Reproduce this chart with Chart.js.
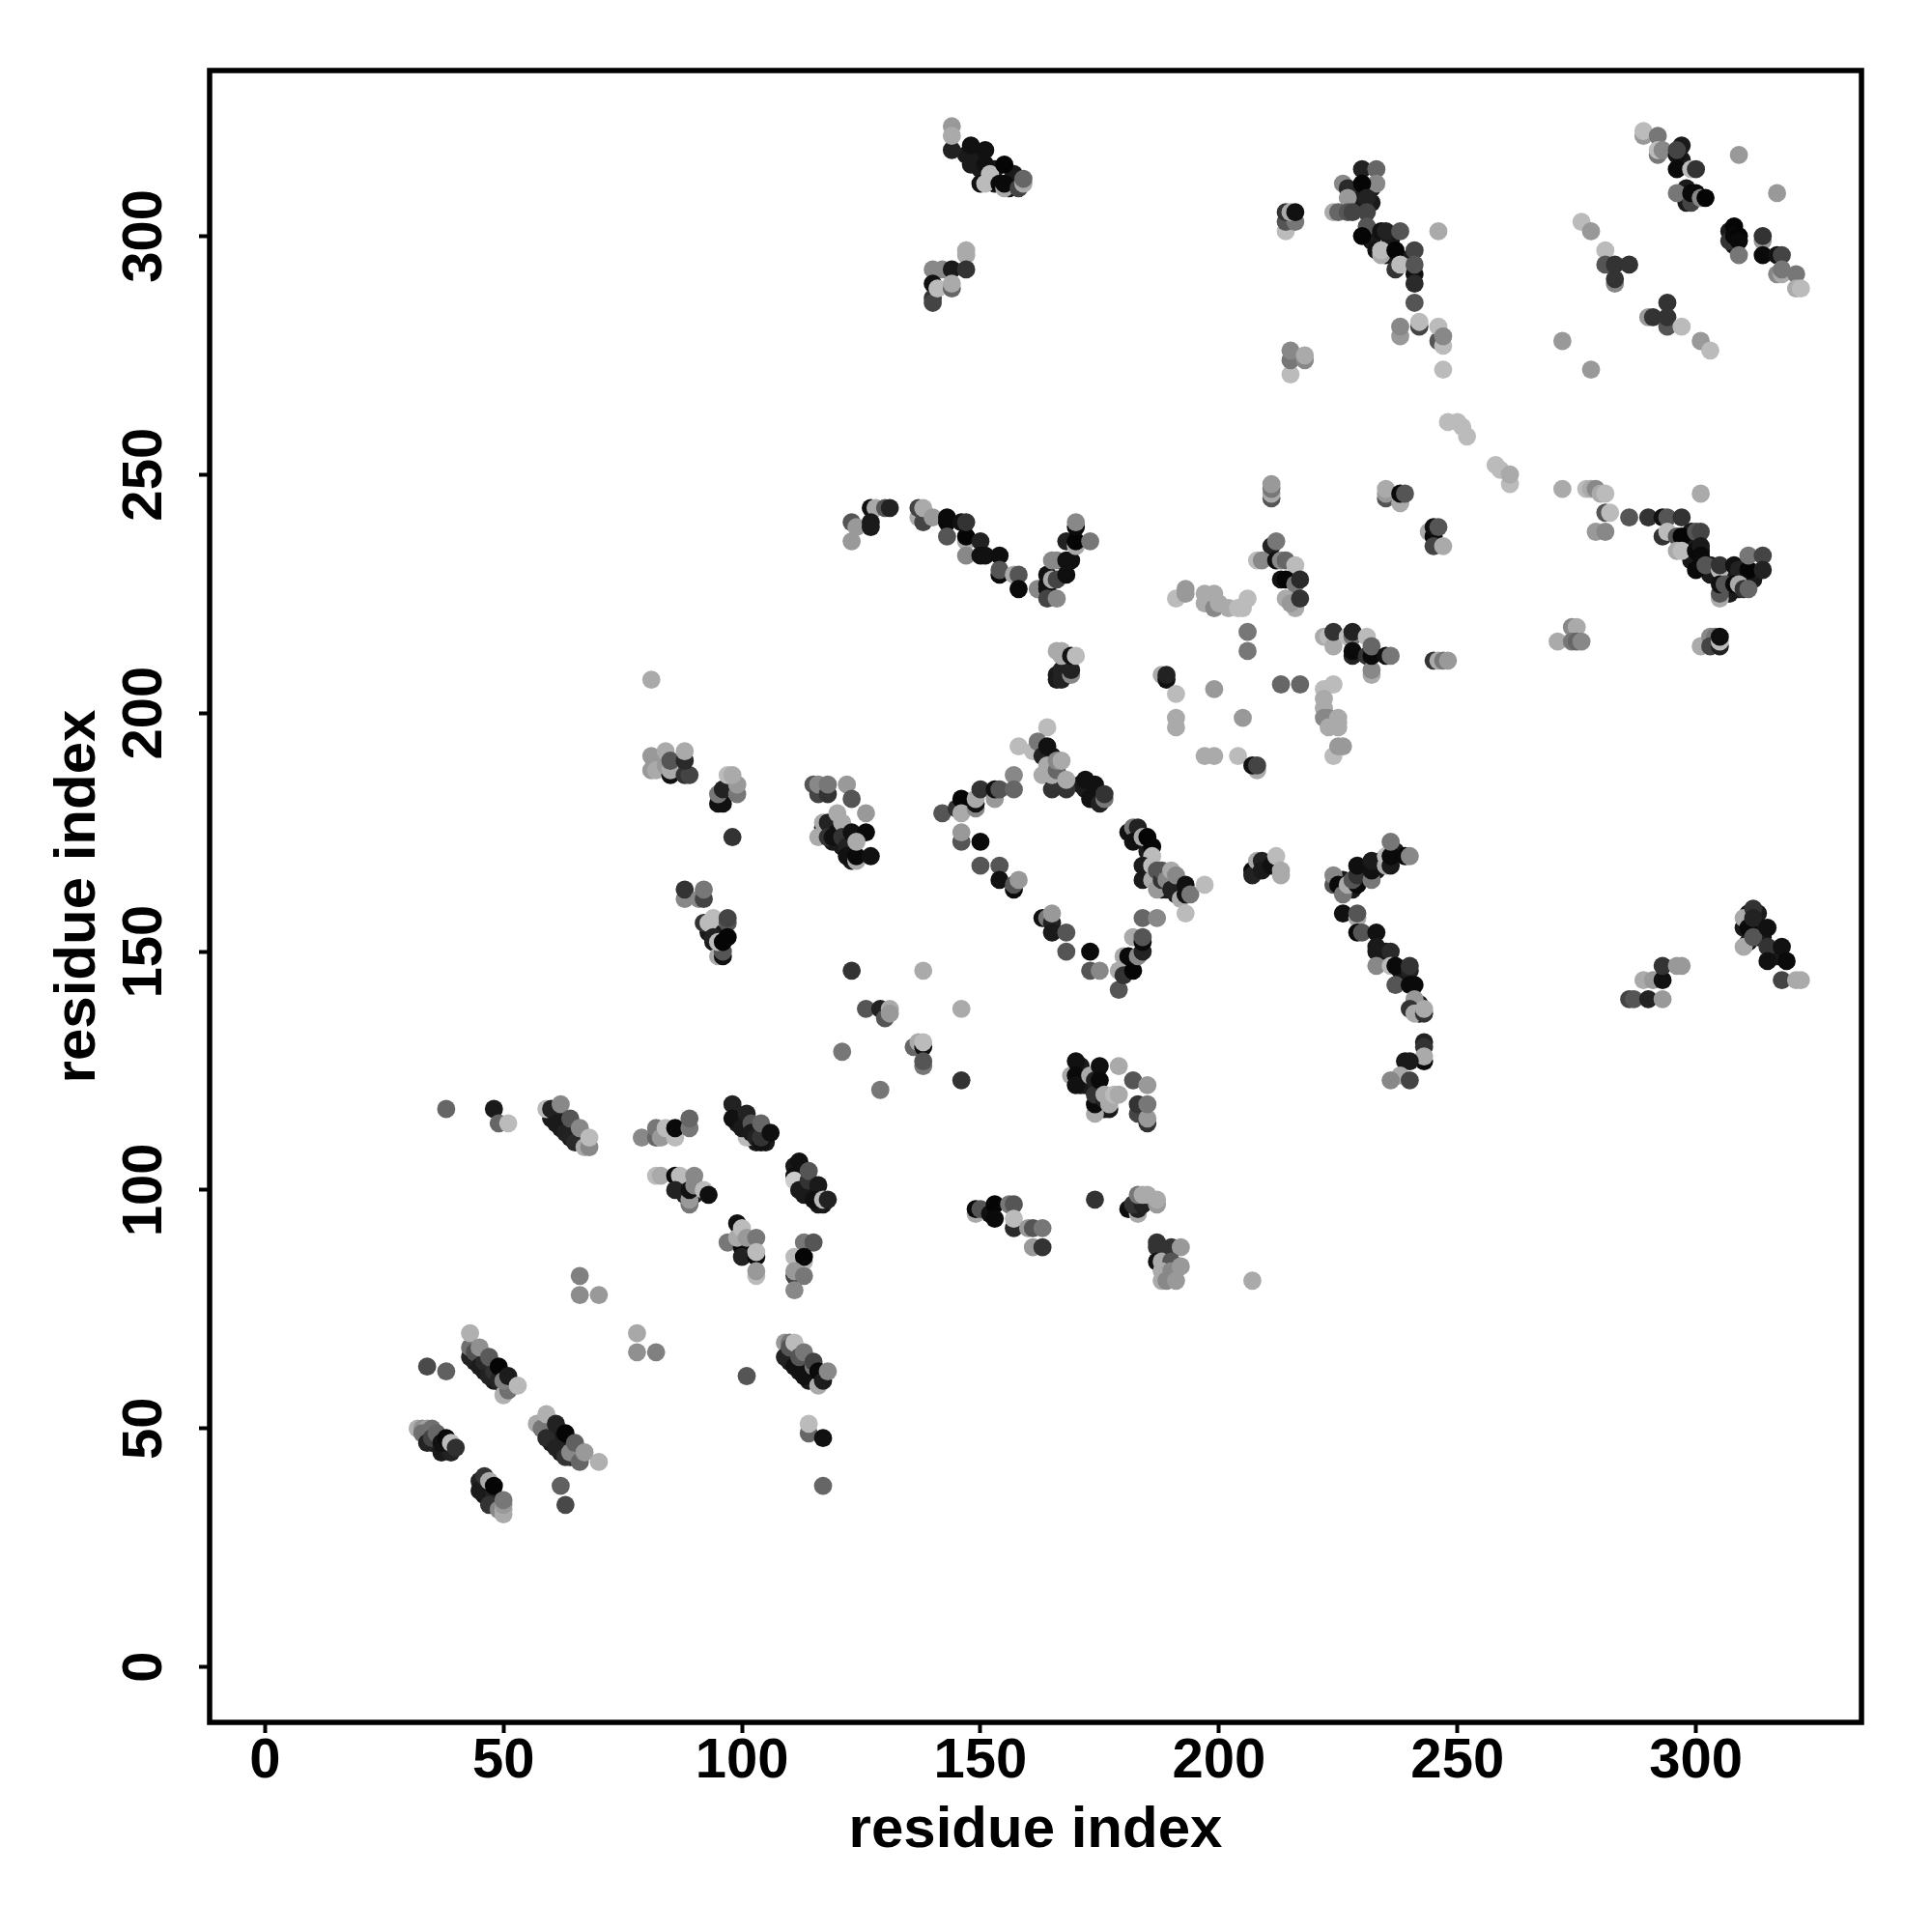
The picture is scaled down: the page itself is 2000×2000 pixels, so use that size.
<!DOCTYPE html>
<html>
<head>
<meta charset="utf-8">
<title>residue contacts</title>
<script src="https://cdn.jsdelivr.net/npm/chart.js@4/dist/chart.umd.min.js"></script>
<style>
  html, body { margin: 0; padding: 0; background: #fff; }
  canvas { display: block; }
</style>
</head>
<body>
<canvas id="contactChart" width="2000" height="2000"></canvas>
<script>
/* ===== DATA (one line per cluster) ===== */
const tickValues = [0, 50, 100, 150, 200, 250, 300];
const axisTitle = 'residue index';

const residueX = [
  43,43,43,44,45,46,47,48,49,45,47,49,50,51,50,51,53,
  32,33,34,35,33,34,36,37,39,35,36,37,38,39,40,
  45,45,46,47,48,47,48,49,50,50,50,50,
  62,63,34,38,66,66,70,78,78,82,101,114,114,117,117,38,48,49,51,
  57,58,59,59,61,61,63,63,64,65,66,67,70,
  97,99,100,99,100,100,101,103,103,103,103,103,
  113,115,111,113,113,111,111,113,111,
  109,110,109,110,111,111,112,113,113,116,115,115,116,117,118,
  59,60,61,62,63,64,65,66,67,68,68,
  79,82,82,83,84,86,86,89,89,
  99,98,98,101,100,101,102,102,103,104,104,104,106,
  82,83,86,87,86,88,89,89,89,90,90,92,93,
  111,111,111,112,112,114,114,116,115,117,118,
  126,129,130,131,131,121,129,123,138,146,146,136,137,138,138,138,138,
  169,170,170,170,173,174,174,174,174,175,175,176,176,177,178,179,179,182,183,183,185,185,185,185,
  149,149,150,152,153,153,156,157,157,157,160,161,163,161,163,
  181,183,183,182,184,183,184,185,187,187,
  187,187,187,188,190,192,190,188,190,192,188,189,191,
  174,207,81,
  81,81,82,84,84,85,85,85,88,89,88,88,
  95,96,95,96,99,97,99,98,
  98,
  115,116,116,118,118,122,123,126,116,117,118,118,119,120,120,121,121,122,123,126,122,124,124,124,127,
  88,88,91,92,92,92,93,94,97,97,95,96,96,94,95,96,97,
  164,158,161,162,163,163,164,164,165,165,166,166,167,168,168,172,172,174,173,175,176,176,
  142,145,146,146,149,149,149,150,153,153,154,157,157,
  146,146,150,150,154,154,157,157,158,
  163,164,165,165,165,168,168,173,173,175,179,179,180,180,181,182,183,184,182,184,184,184,187,
  181,182,183,182,184,185,186,186,184,184,186,186,187,187,188,188,189,190,190,191,192,193,193,193,194,197,
  207,207,208,209,209,211,212,213,213,
  224,224,225,226,227,229,228,229,229,232,232,232,235,235,236,236,236,239,240,
  226,229,229,229,230,233,233,233,236,233,236,237,240,240,237,240,241,241,240,241,243,243,
  243,243,243,243,239,240,238,236,240,
  286,287,290,289,291,293,293,293,296,297,
  310,310,311,312,312,312,315,315,315,318,319,318,321,322,
  123,123,124,127,128,127,127,130,131,
  137,137,138,138,140,143,143,143,146,147,147,147,147,150,150,151,154,154,154,157,158,158,
  162,164,164,164,164,166,165,166,165,166,168,168,169,168,170,170,173,170,170,
  166,166,167,167,169,169,166,167,167,169,170,
  211,211,211,211,
  235,235,235,238,238,239,
  244,245,245,246,245,247,
  211,212,208,209,212,213,214,216,213,214,216,217,214,216,215,217,
  191,193,193,197,197,199,199,200,202,204,205,206,
  206,206,
  222,223,224,224,227,228,228,228,228,231,231,232,232,232,232,235,236,
  245,246,247,248,
  188,189,189,191,199,191,191,205,197,199,204,208,207,208,
  213,217,224,222,222,222,222,223,223,225,225,225,224,225,226,
  248,250,251,252,258,259,261,261,
  272,277,278,279,280,281,281,282,279,281,
  301,286,290,293,294,297,293,294,296,297,300,301,296,297,300,301,301,301,300,302,305,305,308,309,311,311,314,314,305,305,305,306,308,309,310,311,
  271,274,275,274,275,276,
  301,303,304,303,305,305,305,
  144,144,144,148,148,151,151,150,151,152,154,155,155,155,158,159,159,
  147,147,140,142,144,147,140,140,140,141,144,144,
  214,214,216,214,215,216,
  226,227,227,224,225,227,228,230,233,233,230,231,231,231,230,234,235,238,233,234,234,237,241,237,238,241,241,241,241,246,
  238,238,242,242,246,246,247,247,247,
  215,215,215,218,218,
  289,289,292,292,292,293,296,296,296,299,300,296,299,299,300,301,302,
  309,317,
  307,308,308,309,309,309,314,314,314,317,318,317,318,318,321,321,322,
  276,278,281,281,283,283,283,286,
  294,290,291,294,294,297,301,303,272,278
];

const residueY = [
  65,67,70,66,63,64,61,62,60,67,65,63,57,58,60,61,59,
  50,50,50,50,49,47,48,45,45,48,49,47,48,47,46,
  39,37,40,39,36,34,38,33,32,33,34,35,
  38,34,63,62,82,78,78,70,66,66,61,49,51,48,38,117,117,114,114,
  51,50,48,53,46,51,44,49,45,47,43,45,43,
  89,93,88,90,92,86,90,90,86,87,82,83,
  89,89,86,85,86,82,83,82,79,
  68,68,65,67,63,68,65,61,66,59,63,64,62,60,62,
  117,117,114,118,112,115,110,113,109,109,111,
  111,111,113,111,113,111,113,113,115,
  116,118,115,111,113,116,114,112,111,110,111,114,112,
  103,103,103,103,100,99,97,98,100,101,103,100,99,
  105,103,102,106,100,102,104,101,98,98,98,
  138,138,136,138,137,129,121,146,146,138,123,130,131,130,131,126,127,
  124,127,124,122,124,123,116,118,120,126,123,119,120,118,120,120,126,123,116,118,114,115,118,122,
  95,96,96,95,97,94,97,97,92,94,92,92,92,88,88,
  96,95,96,97,97,99,99,99,97,98,
  89,88,85,85,88,88,85,83,83,84,81,81,81,
  98,81,207,
  191,188,188,192,189,187,188,190,187,187,190,192,
  181,181,183,184,183,187,185,187,
  174,
  185,183,185,183,185,185,182,179,174,177,177,174,174,179,175,177,174,172,175,175,170,169,170,173,170,
  161,163,161,161,163,156,156,157,156,157,149,149,150,153,152,152,153,
  197,193,192,194,187,191,193,189,184,187,188,190,190,184,186,184,186,185,182,181,182,183,
  179,180,182,179,180,181,182,184,182,184,184,187,184,
  173,175,173,168,168,165,163,164,165,
  157,157,156,158,154,154,150,150,146,146,142,146,149,145,149,146,149,150,153,152,153,157,157,
  175,176,176,173,174,174,172,170,168,165,168,165,167,163,165,167,165,163,167,166,161,158,164,162,162,164,
  167,166,169,169,167,168,170,167,166,
  164,166,164,162,164,164,165,166,168,165,167,169,168,170,168,170,173,170,170,
  158,157,158,154,154,154,150,151,150,147,147,147,146,147,143,143,143,140,138,137,137,138,
  131,130,127,128,127,127,124,123,123,
  140,140,140,144,144,140,144,147,147,147,
  157,151,155,159,153,157,155,151,148,151,148,144,144,144,
  240,236,239,243,243,240,239,243,243,
  241,243,240,243,241,240,241,237,240,236,237,240,233,236,233,233,233,229,230,229,229,226,
  226,229,227,226,224,224,232,232,228,228,229,232,232,236,235,236,236,239,240,
  207,208,207,209,208,209,213,213,212,212,212,
  245,246,247,248,
  245,246,247,244,246,246,
  238,237,239,239,235,235,
  235,236,232,232,232,232,232,231,228,228,227,228,224,222,223,224,
  224,226,225,223,225,222,225,223,222,222,222,224,
  217,213,
  216,216,214,217,216,216,217,212,213,216,212,208,209,212,214,212,212,
  211,211,211,211,
  208,207,208,204,205,199,197,199,191,191,191,188,189,189,
  206,206,206,205,203,201,199,199,197,199,198,197,191,193,193,
  261,261,260,258,252,251,248,250,
  247,247,247,247,246,246,242,242,238,238,
  246,241,241,241,241,241,237,238,237,237,238,238,234,234,234,234,235,233,230,231,230,231,231,230,230,233,233,230,224,225,227,227,227,227,226,226,
  215,218,218,215,215,215,
  214,216,216,214,214,215,216,
  318,323,321,319,315,318,315,311,311,313,311,310,311,315,310,311,312,
  296,297,293,293,293,293,287,286,290,289,289,290,
  301,303,303,305,305,305,
  311,310,308,305,305,305,305,314,314,311,311,308,305,302,300,301,301,301,297,296,297,297,297,293,294,292,294,290,286,301,
  279,281,281,282,278,281,277,279,272,
  271,274,276,274,275,
  321,322,321,317,318,318,317,318,314,314,314,309,307,309,309,308,308,
  317,309,
  299,302,300,300,299,296,299,300,296,296,296,292,292,293,292,289,289,
  303,301,297,294,290,294,291,294,
  286,283,283,281,283,281,278,276,278,272
];

const contactShade = [
  34,112,176,80,28,40,34,48,37,144,90,5,176,112,128,28,184,
  176,144,160,112,112,34,34,26,34,68,102,17,10,187,48,
  34,26,51,170,34,51,5,136,170,170,153,119,
  96,72,74,96,128,140,153,168,144,128,85,102,187,17,102,102,26,102,187,
  170,119,42,176,34,34,51,5,136,96,102,153,176,
  119,17,10,170,187,34,153,119,10,187,187,153,
  119,85,187,187,5,68,153,119,136,
  153,119,34,85,17,187,85,17,119,170,119,68,10,28,136,
  187,34,26,136,34,85,42,136,170,136,187,
  136,102,119,153,187,187,10,119,102,
  85,34,17,187,26,34,85,26,34,17,51,102,15,
  187,170,10,187,34,34,119,153,17,136,136,187,15,
  26,17,204,17,26,51,85,26,17,187,34,
  85,34,85,170,153,119,119,51,170,170,51,102,170,17,187,119,85,
  170,17,10,17,170,34,170,10,51,17,10,34,170,170,187,170,170,85,68,51,51,153,119,153,
  170,10,85,17,5,10,119,85,42,187,153,85,119,153,51,
  15,170,34,51,34,119,170,170,153,170,
  51,51,17,170,51,153,85,170,136,153,170,136,153,
  51,170,170,
  153,153,170,170,153,17,170,85,51,68,42,170,
  17,17,119,34,119,187,153,170,
  51,
  85,68,136,51,119,153,85,153,170,170,34,51,17,170,17,170,51,34,17,10,17,170,10,170,17,
  136,51,136,68,119,51,187,187,85,68,170,17,85,34,187,5,5,
  187,187,187,119,170,34,17,170,51,170,102,136,170,51,170,26,17,17,17,34,119,51,
  85,51,5,170,136,17,170,51,153,17,85,136,102,
  85,153,10,85,85,17,10,85,153,
  17,119,34,153,26,85,85,10,85,136,85,170,170,51,10,5,136,34,170,10,85,102,136,
  17,119,34,17,170,5,5,187,26,26,187,170,85,153,51,85,136,34,170,136,170,187,17,17,119,187,
  10,34,170,34,26,17,187,170,170,
  85,136,10,119,170,10,85,51,15,119,17,26,170,187,26,10,119,10,136,
  17,170,85,10,85,17,26,26,42,136,187,10,34,51,85,10,10,153,51,170,51,170,
  34,51,10,170,26,26,170,136,68,
  68,85,34,170,153,153,17,51,153,153,
  170,170,10,51,85,34,17,51,17,17,10,68,170,170,
  85,153,153,17,170,26,26,85,34,
  170,68,68,170,153,10,10,85,17,170,5,51,136,34,17,17,15,10,85,170,85,10,
  136,17,17,17,68,136,136,136,170,68,15,17,17,34,170,5,119,10,136,
  26,26,34,34,136,34,170,170,170,17,187,
  85,170,119,153,
  85,153,170,170,10,85,
  170,10,17,85,68,170,
  34,119,187,136,17,136,102,187,17,5,119,42,170,170,153,51,
  187,153,153,170,170,136,170,170,170,187,187,187,
  119,119,
  170,187,170,51,187,119,34,34,10,187,51,170,136,10,102,17,119,
  51,170,119,153,
  170,17,34,187,153,170,170,153,170,170,187,170,17,68,
  102,102,187,187,170,170,136,136,170,170,170,170,187,153,153,
  187,187,187,187,187,187,187,170,
  170,187,170,136,170,187,85,187,153,136,
  170,85,51,17,85,51,51,187,85,5,85,68,170,187,10,10,26,10,10,85,187,51,17,34,5,119,68,34,170,85,17,85,10,170,51,102,
  170,136,170,119,102,136,
  170,136,119,68,34,187,15,
  34,153,170,17,26,17,17,17,187,187,10,170,10,5,68,170,102,
  170,170,136,136,26,51,51,68,17,187,102,170,
  187,85,119,51,170,17,
  136,42,153,170,102,85,68,34,102,136,5,34,68,85,5,17,34,85,17,170,187,5,68,51,187,17,85,42,85,170,
  153,136,68,187,85,187,187,136,187,
  187,119,136,136,170,
  153,187,119,119,187,136,17,68,10,187,51,119,68,10,10,136,5,
  153,153,
  51,5,10,5,10,119,153,51,10,17,68,136,170,119,119,170,187,
  187,153,187,85,136,51,51,51,
  51,153,51,85,51,187,153,187,153,153
];

// dark contacts mostly covered by the ones above, only their edges show
const coveredX = [
  44,46,48,50,46,48, 35,38,39,36, 46,46,46,47,48,48,49,49, 60,62,64,62,60,65,
  99,100,101,103,103,105,105, 112,112,113,113,114,116,117,113, 112,114,110,
  60,62,64,66,67,61, 87,88,90,91, 171,171,172,175,176,177,175,171,
  94,94,95,96,93, 117,119,120,121,123,123,117,119,
  164,165,166,166,171,173,174,175, 185,187,186,188,189,191,192,
  147,149,150,153,153,156,157,157, 229,229,232,232,236,232,239,235,
  299,299,303,303,307,310,307,312,309,299,
  311,313,311,313,316,317,312,310,314, 307,308, 297,297,298,298,
  234,235,238,239,242,242, 226,228,231,234,237,233
];
const coveredY = [
  64,62,60,59,65,63, 47,46,46,47, 38,37,36,36,35,34,34,35, 47,45,44,48,50,44,
  114,115,113,113,110,110,112, 103,102,104,101,99,97,97,99, 62,60,64,
  115,113,111,110,111,116, 100,101,99,100, 122,124,122,119,117,117,120,126,
  154,152,153,153,154, 175,176,173,172,171,169,176,173,
  190,191,186,185,185,184,183,183, 171,165,166,163,163,162,163,
  317,316,314,314,311,310,311,313, 306,309,310,307,299,299,295,296,
  235,232,229,231,229,228,225,228,226,238,
  158,158,152,153,150,149,155,155,153, 301,298, 316,319,310,307,
  149,150,146,144,137,139, 165,163,167,169,171,167
];
const coveredShade = 26;

/* ===== CHART.JS SETUP ===== */
Chart.defaults.font.family = "'Liberation Sans', Arial, sans-serif";
Chart.defaults.font.weight = 'bold';
Chart.defaults.color = '#000';

const contactPoints = residueX.map((x, i) => ({ x, y: residueY[i] }));
const contactColors = contactShade.map(g => `rgb(${g},${g},${g})`);
const coveredPoints = coveredX.map((x, i) => ({ x, y: coveredY[i] }));

// R style box around the plot, Chart.js only draws the two axis lines
const plotFrame = {
  id: 'plotFrame',
  afterDraw(chart) {
    const { ctx, chartArea: a } = chart;
    ctx.save();
    ctx.strokeStyle = '#000';
    ctx.lineWidth = 5.5;
    ctx.strokeRect(a.left, a.top, a.right - a.left, a.bottom - a.top);
    ctx.restore();
  }
};

const setTicks = scale => { scale.ticks = tickValues.map(value => ({ value })); };

const axisOptions = {
  type: 'linear',
  min: -11.6,
  max: 334.7,
  afterBuildTicks: setTicks,
  border: { display: false },
  grid: {
    drawOnChartArea: false,
    drawTicks: true,
    tickLength: 11,
    tickWidth: 4,
    tickColor: '#000'
  }
};

new Chart(document.getElementById('contactChart'), {
  type: 'scatter',
  data: {
    datasets: [{
      label: 'contacts',
      data: contactPoints,
      order: 1,
      pointRadius: 9.4,
      pointBorderWidth: 0,
      pointBackgroundColor: contactColors,
      clip: false
    }, {
      label: 'covered',
      data: coveredPoints,
      order: 2,
      pointRadius: 9.4,
      pointBorderWidth: 0,
      pointBackgroundColor: `rgb(${coveredShade},${coveredShade},${coveredShade})`,
      clip: false
    }]
  },
  options: {
    responsive: false,
    animation: false,
    layout: { padding: { top: 73, right: 73, left: 0, bottom: 0 } },
    plugins: { legend: { display: false }, tooltip: { enabled: false } },
    scales: {
      x: {
        ...axisOptions,
        afterFit: scale => { scale.height = 217; },
        ticks: {
          autoSkip: false,
          maxRotation: 0,
          minRotation: 0,
          padding: -5,
          font: { size: 58, weight: 'bold' },
          callback: v => String(v)
        },
        title: {
          display: true,
          text: axisTitle,
          font: { size: 60, weight: 'bold' },
          padding: { top: 0, bottom: 69 }
        }
      },
      y: {
        ...axisOptions,
        afterFit: scale => { scale.width = 217; },
        ticks: {
          autoSkip: false,
          minRotation: 90,
          maxRotation: 90,
          crossAlign: 'center',
          padding: 7,
          font: { size: 58, weight: 'bold' },
          callback: v => String(v)
        },
        title: {
          display: true,
          text: axisTitle,
          font: { size: 60, weight: 'bold' },
          padding: { top: 45, bottom: 0 }
        }
      }
    }
  },
  plugins: [plotFrame]
});
</script>
</body>
</html>
